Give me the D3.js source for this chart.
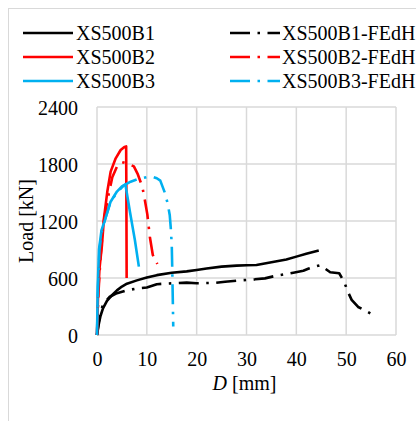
<!DOCTYPE html>
<html><head><meta charset="utf-8">
<script src="https://cdn.jsdelivr.net/npm/d3@7"></script>
<style>
html,body{margin:0;padding:0;background:#fff;}
</style></head>
<body>
<svg id="chart" width="416" height="421" style="font-family:'Liberation Serif',serif"></svg>
<script>
// ---- data ----
const xTicks = [0,10,20,30,40,50,60];
const yTicks = [0,600,1200,1800,2400];

const seriesNames = ["XS500B1","XS500B2","XS500B3","XS500B1-FEdH","XS500B2-FEdH","XS500B3-FEdH"];
const seriesColors = ["#000000","#ff0000","#00b0f0","#000000","#ff0000","#00b0f0"];
const seriesDashed = [false,false,false,true,true,true];

const b1D = [0,0.3,0.7,1.2,2,3,4,5,6,8,10,12,15,18,20,22,25,28,30,32,35,38,40,42,44.5];
const b1L = [0,100,200,280,360,420,470,510,540,575,605,630,655,670,685,700,720,730,735,737,765,795,825,855,890];

const b2D = [0,0.2,0.5,1.0,1.4,2.07,2.74,3.75,4.75,5.5,5.85,5.9,5.95];
const b2L = [0,400,700,950,1230,1510,1720,1860,1947,1980,1985,1400,600];

const b3D = [0,0.15,0.4,0.9,1.7,2.7,4,5,5.7,6.6,7.6,8.4];
const b3L = [0,500,900,1100,1230,1400,1510,1565,1585,1300,1000,720];

const b1fD = [0,0.5,1.2,2.5,4,6,8,10,12,15,18,20,23.5,25.7,28,31.7,33.7,35.7,39.4,41.4,42.5,43.4,44.8,46.8,48.6,49.6,50.3,51.1,52.4,54.1,55.1];
const b1fL = [0,200,320,400,440,470,490,500,535,544,551,545,548,561,572,586,596,621,656,677,700,715,735,660,650,560,460,370,295,250,220];

const b2fD = [0,0.3,0.7,1.3,2.2,3.07,4.07,5,6.4,7.4,8.2,9.1,9.6,10.1,10.6,11.2,12.1];
const b2fL = [0,450,820,1180,1450,1660,1780,1820,1800,1775,1690,1560,1420,1270,1035,842,747];

const b3fD = [0,0.2,0.5,1.0,1.7,2.7,4,5.4,6.75,8,9.1,10.2,11.1,12,12.7,13.6,14.2,14.6,14.8,15,15.1,15.2,15.3];
const b3fL = [0,500,900,1100,1230,1400,1500,1575,1614,1638,1650,1665,1667,1650,1625,1500,1380,1260,1130,950,700,400,90];

const seriesD = [b1D,b2D,b3D,b1fD,b2fD,b3fD];
const seriesL = [b1L,b2L,b3L,b1fL,b2fL,b3fL];

// ---- layout ----
const svg = d3.select("#chart");
const pLeft = 97, pRight = 396, pTop = 107, pBottom = 335;
const x = d3.scaleLinear().domain([0,60]).range([pLeft,pRight]);
const y = d3.scaleLinear().domain([0,2400]).range([pBottom,pTop]);
const grid = "#d9d9d9";
const fontSize = 20;
const fontFam = "'Liberation Serif', serif";

// outer border
svg.append("rect").attr("x",8.5).attr("y",8.5).attr("width",420).attr("height",420)
  .attr("fill","none").attr("stroke",grid).attr("stroke-width",1);

// gridlines
svg.append("g").selectAll("line").data(xTicks).join("line")
  .attr("x1",d=>x(d)).attr("x2",d=>x(d)).attr("y1",pTop).attr("y2",pBottom)
  .attr("stroke",grid).attr("stroke-width",1.5);
svg.append("g").selectAll("line").data(yTicks).join("line")
  .attr("x1",pLeft).attr("x2",pRight).attr("y1",d=>y(d)).attr("y2",d=>y(d))
  .attr("stroke",grid).attr("stroke-width",1.5);

// axes (labels only)
const xAxis = d3.axisBottom(x).tickValues(xTicks).tickSize(0).tickPadding(0).tickFormat(d3.format("d"));
const gx = svg.append("g").attr("transform",`translate(0,${pBottom})`).call(xAxis);
gx.attr("font-family",fontFam).attr("font-size",fontSize);
gx.select(".domain").remove();
gx.selectAll("text").attr("dy",null).attr("y",31).attr("fill","#000");

const yAxis = d3.axisLeft(y).tickValues(yTicks).tickSize(0).tickPadding(0).tickFormat(d3.format("d"));
const gy = svg.append("g").attr("transform",`translate(${pLeft},0)`).call(yAxis);
gy.attr("font-family",fontFam).attr("font-size",fontSize);
gy.select(".domain").remove();
gy.selectAll("text").attr("x",-19).attr("dy","0.35em").attr("fill","#000");

// axis titles
const xt = svg.append("text").attr("x",(pLeft+pRight)/2 - 2).attr("y",390).attr("text-anchor","middle")
  .attr("font-size",fontSize).attr("font-family",fontFam);
xt.append("tspan").attr("font-style","italic").text("D");
xt.append("tspan").text(" [mm]");
svg.append("text").attr("transform",`translate(33,${(pTop+pBottom)/2}) rotate(-90)`)
  .attr("text-anchor","middle").attr("font-size",fontSize).attr("font-family",fontFam).text("Load [kN]");

// curves
const lineLin = d3.line().x(d=>x(d[0])).y(d=>y(d[1]));
const dash = "20,7.5,2.5,7.5";
seriesNames.forEach((name,i)=>{
  const pts = seriesD[i].map((d,j)=>[d,seriesL[i][j]]);
  svg.append("path").attr("d",lineLin(pts)).attr("fill","none")
    .attr("stroke",seriesColors[i]).attr("stroke-width",2.6)
    .attr("stroke-linejoin","round")
    .attr("stroke-dasharray",seriesDashed[i]?dash:null);
});

// legend
const legRowY = [33,57,81];
const legCols = [{lx:23,tx:76},{lx:230,tx:282}];
seriesNames.forEach((name,i)=>{
  const col = legCols[Math.floor(i/3)], ry = legRowY[i%3];
  svg.append("line").attr("x1",col.lx).attr("x2",col.lx+50).attr("y1",ry).attr("y2",ry)
    .attr("stroke",seriesColors[i]).attr("stroke-width",2.6)
    .attr("stroke-dasharray",seriesDashed[i]?dash:null);
  svg.append("text").attr("x",col.tx).attr("y",ry).attr("dy","0.35em")
    .attr("font-size",fontSize).attr("font-family",fontFam).text(name);
});
</script>
</body></html>
